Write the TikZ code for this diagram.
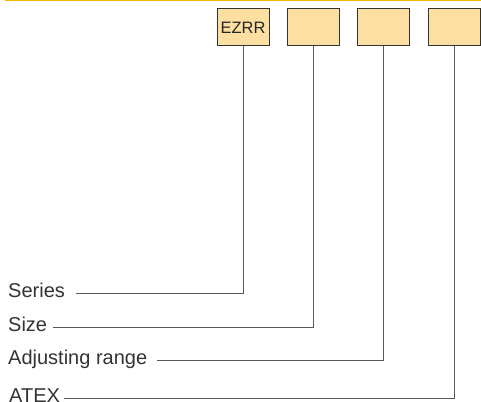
\documentclass[tikz,border=0pt]{standalone}
\usepackage{fontspec}
\setmainfont{Liberation Sans}
\usepackage{xcolor}
\usepackage{tikz}

\definecolor{codefill}{HTML}{FDDFA2}
\definecolor{topbar}{HTML}{F5B800}
\definecolor{inkgray}{HTML}{333333}
\definecolor{leadgray}{HTML}{5A5A5A}

\begin{document}
\begin{tikzpicture}[x=1pt, y=-1pt,
  codebox/.style={draw=inkgray, fill=codefill, line width=1pt, minimum width=52pt,
    minimum height=37pt, inner sep=0pt, text=black!85, font=\fontsize{16.5}{18}\selectfont},
  lbl/.style={anchor=base west, inner sep=0pt, text=inkgray, font=\fontsize{20}{24}\selectfont},
  lead/.style={draw=leadgray, line width=0.9pt}]

  \useasboundingbox (0,0) rectangle (481,401);

  % Top rule
  \draw[topbar, line width=1.5pt] (5,0.6) -- (481,0.6);

  % Code boxes
  \node[codebox] (series) at (243,27.5) {EZRR};
  \node[codebox] (size)   at (313,27.5) {};
  \node[codebox] (range)  at (383,27.5) {};
  \node[codebox] (atex)   at (454,27.5) {};

  % Labels
  \node[lbl] (seriesL) at (8,297) {Series};
  \node[lbl] (sizeL)   at (8,331) {Size};
  \node[lbl] (rangeL)  at (8,364.5) {Adjusting range};
  \node[lbl] (atexL)   at (9,402.5) {ATEX};

  % Leader lines
  \draw[lead] ([xshift=11pt, yshift=4pt]seriesL.base east) -| (series.south);
  \draw[lead] ([xshift=6pt, yshift=4pt]sizeL.base east) -| (size.south);
  \draw[lead] ([xshift=10pt, yshift=4.5pt]rangeL.base east) -| (range.south);
  \draw[lead] ([xshift=4pt, yshift=4.5pt]atexL.base east) -| (atex.south);
\end{tikzpicture}
\end{document}
